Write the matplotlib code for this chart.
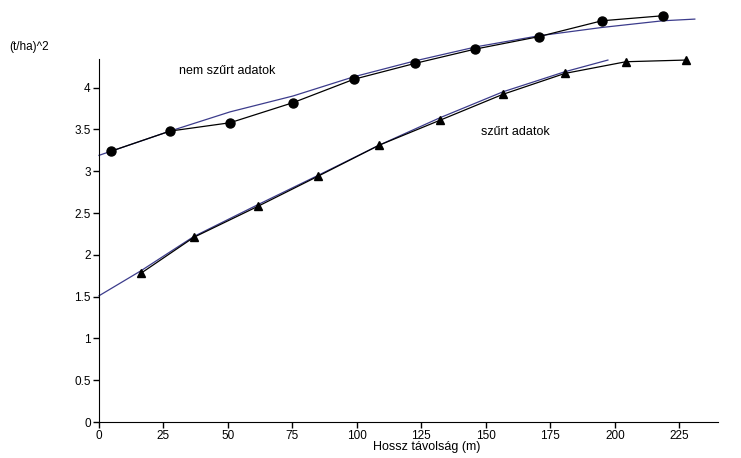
import numpy as np
import matplotlib
matplotlib.use('Agg')
import matplotlib.pyplot as plt

plt.rcParams['font.family'] = ['Liberation Sans', 'DejaVu Sans']

# nem szurt adatok (circles)
x_nem = [4.7, 27.5, 50.8, 75.2, 98.8, 122.5, 145.7, 170.5, 195.0, 218.6]
y_nem = [3.24, 3.48, 3.58, 3.82, 4.10, 4.29, 4.46, 4.61, 4.80, 4.86]
# fitted curve
fx_nem = [0, 27.5, 50.8, 75.2, 98.8, 122.5, 146.5, 170.5, 195.0, 218.6, 231.0]
fy_nem = [3.19, 3.48, 3.71, 3.90, 4.13, 4.32, 4.49, 4.62, 4.72, 4.80, 4.82]

# szurt adatok (triangles)
x_sz = [16.3, 36.8, 61.6, 84.9, 108.5, 132.2, 156.6, 180.6, 204.3, 227.5]
y_sz = [1.78, 2.21, 2.58, 2.94, 3.31, 3.61, 3.92, 4.17, 4.31, 4.33]
fx_sz = [0, 16.3, 36.8, 61.6, 84.9, 108.5, 132.2, 156.6, 180.6, 197.3]
fy_sz = [1.51, 1.81, 2.22, 2.60, 2.95, 3.31, 3.64, 3.95, 4.19, 4.33]

xticks = [0, 25, 50, 75, 100, 125, 150, 175, 200, 225]
yticks = [0, 0.5, 1, 1.5, 2, 2.5, 3, 3.5, 4]
ylabels = ['0', '0.5', '1', '1.5', '2', '2.5', '3', '3.5', '4']

fig = plt.figure(figsize=(7.41, 4.58), dpi=100)
ax = fig.add_axes([0.1336, 0.0786, 0.8354, 0.8943])

fitcol = '#3c3c8c'
ax.plot(fx_nem, fy_nem, color=fitcol, lw=0.9, clip_on=False)
ax.plot(fx_sz, fy_sz, color=fitcol, lw=0.9, clip_on=False)
ax.plot(x_nem, y_nem, color='black', lw=0.9, marker='o', ms=6.5, clip_on=False)
ax.plot(x_sz, y_sz, color='black', lw=0.9, marker='^', ms=6, clip_on=False)

ax.set_xlim(0, 240)
ax.set_ylim(0, 4.9)
ax.spines['top'].set_visible(False)
ax.spines['right'].set_visible(False)
ax.spines['left'].set_bounds(0, 4.34)
ax.set_xticks(xticks)
ax.set_yticks(yticks)
ax.set_yticklabels(ylabels)
ax.tick_params(labelsize=8.5, length=4, width=1, pad=2)

fig.text(0.013, 0.897, '(t/ha)^2', fontsize=8.5, va='center', ha='left')
fig.text(0.503, 0.011, 'Hossz távolság (m)', fontsize=9, va='bottom', ha='left')
ax.text(31, 4.2, 'nem szűrt adatok', fontsize=9, va='center', ha='left')
ax.text(148, 3.47, 'szűrt adatok', fontsize=9, va='center', ha='left')

fig.savefig('out.png', dpi=100)
